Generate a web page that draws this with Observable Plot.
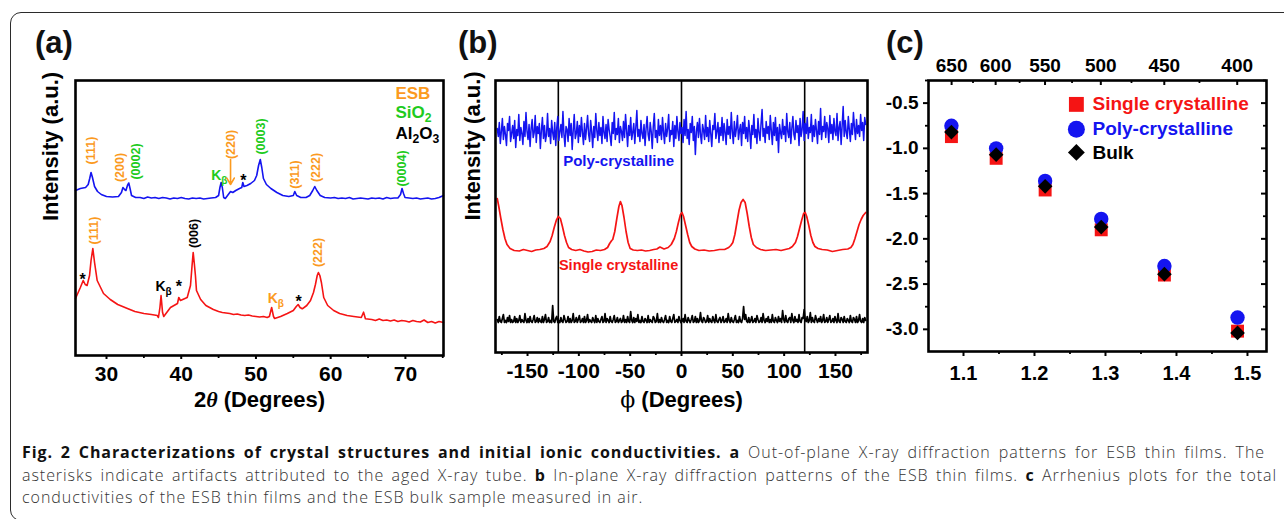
<!DOCTYPE html>
<html><head><meta charset="utf-8">
<script src="https://cdn.jsdelivr.net/npm/d3@7"></script>
<script src="https://cdn.jsdelivr.net/npm/@observablehq/plot@0.6"></script>
<style>
body{margin:0;background:#fff;}
#root{position:relative;width:1284px;height:519px;overflow:hidden;font-family:"Liberation Sans",Arial,sans-serif;background:#fff;}
.box{position:absolute;left:10px;top:12px;width:1300px;height:509px;border:1.5px solid #2b2b2b;border-radius:11px;box-sizing:border-box;}
.panel{position:absolute;top:0;}
.plabel{position:absolute;top:27px;font-size:31px;font-weight:bold;line-height:31px;color:#111;}
.caption{position:absolute;left:22px;top:441px;font-family:"Open Sans",sans-serif;font-size:16px;letter-spacing:0.95px;line-height:22.5px;color:#333;font-weight:300;}
.caption div{white-space:nowrap}
.caption .j{text-align:justify;text-align-last:justify}
.caption b{font-weight:700;color:#111;letter-spacing:0.9px}
</style></head><body>
<div id="root">
  <div class="box"></div>
  <div class="plabel" style="left:35px">(a)</div>
  <div class="plabel" style="left:458px">(b)</div>
  <div class="plabel" style="left:886px">(c)</div>
  <div class="panel" id="pa" style="left:0px;width:455px"></div>
  <div class="panel" id="pb" style="left:440px;width:440px"></div>
  <div class="panel" id="pc" style="left:870px;width:414px"></div>
  <div class="caption">
    <div class="j" style="width:1243px"><b>Fig. 2 Characterizations of crystal structures and initial ionic conductivities.</b> <b>a</b> Out-of-plane X-ray diffraction patterns for ESB thin films. The</div>
    <div class="j" style="width:1255px">asterisks indicate artifacts attributed to the aged X-ray tube. <b>b</b> In-plane X-ray diffraction patterns of the ESB thin films. <b>c</b> Arrhenius plots for the total</div>
    <div>conductivities of the ESB thin films and the ESB bulk sample measured in air.</div>
  </div>
</div>
<script>
const FONT = "Liberation Sans, Arial, Helvetica, sans-serif";
const BLUE = "#1414f0", RED = "#f51414", ORANGE = "#fb9a1e", GREEN = "#1ecb1e", BLACK = "#000";

// ---------- Panel (a): out-of-plane XRD (2θ, intensity a.u.) ----------
const xrdPoly = [[25.85,165],[26.5,167],[27.2,168],[27.55,171],[27.75,177],[27.93,183],[28.12,178],[28.4,169],[28.8,164],[29.3,161],[30.0,159],[30.8,158.5],[31.6,159],[32.0,163],[32.2,168],[32.42,166],[32.6,165],[32.8,170],[32.98,172.5],[33.15,167],[33.35,160],[33.9,158],[34.5,158],[35,157],[35.5,158.5],[36,157.5],[36.5,158],[37,157],[37.5,158],[38,157.5],[38.5,156.5],[39,157.5],[39.5,157],[40,158],[40.5,157],[41,156.5],[41.5,157.5],[42,157],[42.5,157.5],[43,156.5],[43.5,157],[44,157.5],[44.6,158],[45.0,160],[45.18,168],[45.34,173],[45.5,168],[45.68,158],[45.9,157],[46.2,160],[46.6,164],[46.9,163],[47.3,165],[47.8,167],[48.1,168],[48.24,173],[48.4,169],[48.8,170],[49.3,172],[49.8,175],[50.1,180],[50.35,190],[50.58,196],[50.78,188],[51.0,177],[51.4,171],[52,167],[52.8,163],[53.6,160],[54.4,159],[55.0,160],[55.2,164],[55.45,160],[56,158],[56.7,158],[57.2,160],[57.6,165],[57.87,169],[58.15,165],[58.6,160],[59.2,158],[60,157.5],[60.5,158],[61,157],[61.5,157.5],[62,157],[62.5,158],[63,156.5],[63.5,157],[64,157.5],[64.5,157],[65,156.5],[65.5,157.5],[66,157],[66.5,157.5],[67,156.5],[67.5,158],[68,157],[68.5,157.5],[69,157.5],[69.35,161],[69.55,167],[69.75,162],[69.95,158],[70.5,157.5],[71,157],[71.5,157.5],[72,156.5],[72.5,157],[73,157.5],[73.5,156.5],[74,157],[74.5,158],[75.1,160]];

const xrdSingle = [[25.85,57],[26.5,68],[26.88,75],[27.15,71],[27.4,70],[27.73,80],[27.93,95],[28.17,107],[28.4,93],[28.75,75],[29.6,62],[30.5,56],[31.5,51],[32.8,47],[33.8,44],[35.0,42],[36.0,41],[36.8,40],[36.95,38],[37.15,48],[37.3,60],[37.5,43],[37.66,39],[38.56,48],[39.5,52],[39.67,58],[39.9,55],[40.8,58],[41.24,70],[41.45,90],[41.6,103],[41.75,92],[41.9,80],[42.04,65],[42.6,56],[43.3,50],[44.3,46],[45.0,44],[45.5,43],[46,42.5],[46.5,42],[47,41],[47.5,41.5],[48,40.5],[48.5,40],[49,40.5],[49.5,39.5],[50,39],[50.5,38.5],[51,39],[51.5,38],[51.8,39],[52.1,48],[52.35,39],[52.5,37],[53.3,39],[54.2,42],[55.0,45],[55.4,49],[55.65,51],[55.9,48],[56.2,46.7],[56.8,50],[57.3,55],[57.7,63],[57.96,71],[58.2,80],[58.36,83],[58.55,80],[58.76,73],[59.07,58],[59.6,50],[60.4,45],[61.2,42],[62.2,40],[63.1,39],[64.1,38],[64.4,43.3],[64.65,36.7],[65.5,36],[66,35],[66.5,36.5],[67,35],[67.5,35.5],[68,34.5],[68.5,35.5],[69,34],[69.5,35],[70,34.5],[70.5,33.5],[71,35],[71.5,34],[72,33.5],[72.5,35.5],[73,33],[73.5,34],[74,32.5],[74.5,34],[75.1,33]];

// rotated Miller-index labels (2θ, intensity, text, colour)
const polyIndexLabels = [
  {x:27.86, y:205, label:"(111)", color:ORANGE},
  {x:31.87, y:188, label:"(200)", color:ORANGE},
  {x:34.0,  y:194, label:"(0002)", color:GREEN},
  {x:46.6,  y:211, label:"(220)", color:ORANGE},
  {x:50.74, y:219, label:"(0003)", color:GREEN},
  {x:55.28, y:181, label:"(311)", color:ORANGE},
  {x:58.1,  y:188, label:"(222)", color:ORANGE},
  {x:69.6,  y:187, label:"(0004)", color:GREEN}
];
const singleIndexLabels = [
  {x:28.26, y:125, label:"(111)", color:ORANGE},
  {x:41.77, y:122, label:"(006)", color:BLACK},
  {x:58.36, y:103, label:"(222)", color:ORANGE}
];
const kbetaLabels = [
  {x:45.1, y:180, label:"K_β", color:GREEN},
  {x:37.63, y:69,  label:"K_β", color:BLACK},
  {x:52.67, y:57,  label:"K_β", color:ORANGE}
];
const artifactStars = [
  {x:48.33, y:175}, {x:26.8, y:76}, {x:39.67, y:69}, {x:55.7, y:54}
];
const arrow220 = [{x:46.6, y1:196, y2:171}];
const phaseLegend = [
  {label:"ESB", y:262, color:ORANGE},
  {label:"SiO_2", y:243, color:GREEN},
  {label:"Al_2O_3", y:222, color:BLACK}
];
const aTicks = [30,40,50,60,70];
const aMinor = [35,45,55,65,75];

// ---------- Panel (b): in-plane φ scans (1° steps) ----------
const phiStart = -179.5, phiStep = 1;
const phiPolyI = [
224,216,230,209,221,234,213,226,218,207,229,222,236,211,219,227,214,232,205,223,
217,238,212,225,219,208,231,216,240,221,213,228,206,224,233,215,220,237,210,226,
219,229,204,222,235,214,227,211,218,239,216,224,209,232,220,213,230,207,225,236,
212,221,228,215,241,218,206,226,223,211,234,217,229,203,222,238,214,219,231,210,
227,216,235,220,208,229,213,224,237,218,211,232,221,205,226,215,239,222,212,230,
217,225,209,236,220,214,228,211,233,223,216,207,230,219,240,213,224,218,234,210,
226,221,212,231,215,238,222,206,227,217,235,213,220,229,209,225,242,216,223,211,
232,219,214,228,207,224,236,218,212,230,221,204,226,239,215,222,210,233,217,227,
213,235,220,209,229,216,224,238,211,222,218,231,206,227,214,236,221,212,230,219,
225,210,233,217,241,214,223,208,229,220,236,212,226,198,221,230,215,234,218,209,
228,222,213,237,216,225,211,232,219,206,227,223,239,214,221,230,210,225,217,235,
212,229,220,208,233,218,226,214,240,221,209,231,216,224,237,213,222,228,207,230,
219,236,214,225,211,232,221,204,227,218,238,215,223,209,234,220,212,229,243,216,
224,210,231,219,226,213,237,222,208,230,217,235,212,225,200,228,220,214,233,218,
226,211,239,221,215,230,209,224,236,218,213,232,220,227,207,234,216,223,241,212,
229,219,235,214,225,220,238,211,227,216,233,222,209,231,218,244,213,226,221,236,
215,230,224,210,237,219,228,213,234,221,217,239,212,225,231,208,227,246,216,232,
220,214,236,223,211,229,218,240,225,213,233,219,227,216,238,222,230,212,235,228];
const phiSubstrateI = [
33,30,36,31,30,34,38,30,32,30,35,31,37,30,33,30,31,36,30,34,
30,32,37,30,33,31,30,39,32,30,34,30,36,31,30,33,37,30,31,35,
30,34,31,30,36,30,33,38,30,31,35,30,32,30,47,31,30,34,36,30,
32,30,35,31,30,37,33,30,31,36,30,34,30,32,39,30,31,35,30,33,
37,30,31,34,30,36,30,32,38,30,33,31,30,35,32,30,37,30,34,31,
30,33,36,30,31,39,30,34,32,30,36,31,30,33,37,30,31,35,30,32,
34,30,31,37,30,33,30,36,31,30,41,32,30,35,30,34,31,38,30,32,
30,36,31,30,34,32,30,37,30,33,31,30,36,34,30,31,39,30,33,30,
35,31,30,33,37,30,32,30,36,31,30,34,38,30,31,33,30,36,32,30,
31,34,30,38,31,30,35,32,30,33,37,30,31,36,30,34,30,32,40,31,
30,35,33,30,31,37,30,34,31,30,36,32,30,38,31,30,33,35,30,32,
36,30,31,34,30,39,32,30,35,31,30,33,37,30,32,30,36,31,30,34,
46,33,38,31,30,35,30,32,36,30,31,34,30,37,33,30,31,35,30,39,
32,30,34,31,36,30,33,30,38,31,30,35,32,30,36,31,34,30,42,33,
30,37,31,30,34,35,30,39,32,30,36,31,33,30,38,31,30,35,34,43,
33,31,36,30,32,40,30,35,31,30,37,33,30,34,31,36,30,32,38,30,
31,35,30,33,37,30,31,34,30,36,32,30,39,31,30,35,33,30,36,31,
30,34,32,30,37,31,30,35,33,30,36,30,32,38,31,30,34,30,35,32];
const phiSingle = [[-179.5,154],[-178,146],[-176,134],[-174,123],[-172,114],[-170,108],[-167,104],[-163,102],[-158,101.5],[-154,103],[-150,102],[-146,101],[-142,102.5],[-138,103],[-134,104],[-131,106],[-128,111],[-126,117],[-124,125],[-122,132],[-120,136],[-118,134],[-116,126],[-114,117],[-112,110],[-110,105],[-107,103],[-103,102],[-99,103],[-95,101.5],[-91,100.5],[-87,101],[-83,102.5],[-79,102],[-75,103],[-72,105],[-70,109],[-68,112],[-67,113],[-65,121],[-63,134],[-61,146],[-59.5,151],[-58,147],[-56,135],[-54,121],[-52,110],[-50,104],[-47,102.5],[-43,102],[-39,102.5],[-35,101.5],[-31,102],[-27,103],[-24,103.5],[-21,105.5],[-17,103.5],[-13,105],[-10,108],[-7,114],[-5,121],[-3,130],[-1,138],[0.5,140],[2,136],[4,127],[6,118],[8,110],[10,106],[13,103.5],[17,102],[22,102.5],[27,101.5],[32,102],[37,103],[42,103],[46,105],[48,107],[50,110],[52,118],[54,130],[56,142],[58,150],[60,153],[62,150],[64,139],[66,126],[68,115],[70,108],[73,105],[77,103],[82,102],[87,102.5],[92,103],[97,102],[101,103],[105,104],[108,106],[111,110],[113,116],[115,124],[117,132],[119,139],[120.5,140],[122,136],[124,127],[126,117],[128,110],[130,106],[133,104],[137,103],[142,102.5],[147,101],[152,102],[157,103],[162,103.5],[165,105],[167,108],[169,114],[171,121],[173,128],[175,133],[177,137],[179.5,140]];
const substratePhi = [-120, 0, 120];
const bTicks = [-150,-100,-50,0,50,100,150];
const bMinor = [-175,-125,-75,-25,25,75,125,175];
const bLabels = [
  {x:-61.3, y:191, label:"Poly-crystalline", color:BLUE, size:15},
  {x:-61.3, y:87, label:"Single crystalline", color:RED, size:14.5}
];

// ---------- Panel (c): Arrhenius plot ----------
const invT = [1.083, 1.146, 1.215, 1.294, 1.383, 1.486];   // 1000/T (K^-1)
const logSigmaSingle = [-0.87, -1.11, -1.46, -1.90, -2.40, -3.02];
const logSigmaPoly   = [-0.75, -1.00, -1.36, -1.78, -2.30, -2.87];
const logSigmaBulk   = [-0.82, -1.07, -1.42, -1.87, -2.39, -3.04];
const tempTicksC = [650, 600, 550, 500, 450, 400];
const tempMinorC = [625, 575, 525, 475, 425];
const cXTicks = [1.1, 1.2, 1.3, 1.4, 1.5];
const cXMinor = [1.15, 1.25, 1.35, 1.45];
const cYTicks = [-0.5, -1.0, -1.5, -2.0, -2.5, -3.0];
const cYMinor = [-0.25, -0.75, -1.25, -1.75, -2.25, -2.75];
const cLegend = [
  {label:"Single crystalline", y:-0.514, color:RED, symbol:"square", r:8.4},
  {label:"Poly-crystalline", y:-0.79, color:BLUE, symbol:"circle", r:8.5},
  {label:"Bulk", y:-1.045, color:BLACK, symbol:"diamond2", r:7.6}
];
const cLegendSymX = 1.259, cLegendTextX = 1.2817;
const toInvT = T => 1000 / (T + 273.15);

// ---------- helpers ----------
function enrich(svg){
  svg.querySelectorAll("text").forEach(t => {
    const s = t.textContent;
    if (!/[_θϕ]/.test(s)) return;
    const fs = parseFloat(getComputedStyle(t).fontSize) || 14;
    const tokens = [];
    for (let i = 0; i < s.length; i++) {
      const c = s[i];
      if (c === "_") { tokens.push({t:s[i+1], sub:true}); i++; }
      else if (c === "θ" || c === "ϕ") tokens.push({t:c, greek:c});
      else if (tokens.length && tokens[tokens.length-1].plain) tokens[tokens.length-1].t += c;
      else tokens.push({t:c, plain:true});
    }
    while (t.firstChild) t.removeChild(t.firstChild);
    let shifted = false;
    const sh = (0.26*fs).toFixed(2);
    tokens.forEach(tok => {
      const ts = document.createElementNS("http://www.w3.org/2000/svg","tspan");
      ts.textContent = tok.t;
      if (tok.sub) {
        ts.setAttribute("font-size", (0.72*fs).toFixed(1));
        if (!shifted) { ts.setAttribute("dy", sh); shifted = true; }
      } else {
        if (shifted) { ts.setAttribute("dy", "-" + sh); shifted = false; }
        if (tok.greek === "θ") { ts.setAttribute("font-family","Liberation Serif, Times New Roman, serif"); ts.setAttribute("font-style","italic"); }
        if (tok.greek === "ϕ") { ts.setAttribute("font-family","DejaVu Serif, serif"); ts.setAttribute("font-weight","normal"); }
      }
      t.appendChild(ts);
    });
  });
}
const baseStyle = {background:"transparent", overflow:"visible", fontFamily:FONT, color:"#000", fontWeight:"bold"};

// ---------- Panel (a) ----------
const plotA = Plot.plot({
  width:455, height:415, marginLeft:75, marginRight:12, marginTop:80, marginBottom:60,
  style: baseStyle,
  x:{domain:[25.85, 75.1]},
  y:{domain:[0, 275], axis:null},
  marks:[
    Plot.line(xrdPoly, {x:d=>d[0], y:d=>d[1], stroke:BLUE, strokeWidth:1.6}),
    Plot.line(xrdSingle, {x:d=>d[0], y:d=>d[1], stroke:RED, strokeWidth:1.6}),
    Plot.text(polyIndexLabels, {x:"x", y:"y", text:"label", fill:"color", rotate:-90, fontSize:12.5, fontWeight:"bold"}),
    Plot.text(singleIndexLabels, {x:"x", y:"y", text:"label", fill:"color", rotate:-90, fontSize:12.5, fontWeight:"bold"}),
    Plot.text(kbetaLabels, {x:"x", y:"y", text:"label", fill:"color", fontSize:14, fontWeight:"bold"}),
    Plot.text(artifactStars, {x:"x", y:"y", text:()=>"*", fill:BLACK, fontSize:16, fontWeight:"bold"}),
    Plot.arrow(arrow220, {x1:"x", x2:"x", y1:"y1", y2:"y2", stroke:ORANGE, strokeWidth:1.6, headLength:7}),
    Plot.text(phaseLegend, {x:68.66, y:"y", text:"label", fill:"color", textAnchor:"start", fontSize:17, fontWeight:"bold"}),
    Plot.frame({stroke:"#000", strokeWidth:2.6}),
    Plot.axisX(aTicks, {anchor:"bottom", tickSize:4, tickPadding:7, strokeWidth:2, fontSize:21, fontWeight:"bold", tickFormat:d=>String(d), label:null}),
    Plot.axisX(aMinor, {anchor:"bottom", tickSize:3, strokeWidth:1.8, tickFormat:()=>"", label:null}),
    Plot.text(["2θ (Degrees)"], {frameAnchor:"bottom", dy:51, fontSize:22, fontWeight:"bold"}),
    Plot.text(["Intensity (a.u.)"], {frameAnchor:"left", dx:-25, dy:3, rotate:-90, fontSize:22, fontWeight:"bold"})
  ]
});
document.getElementById("pa").appendChild(plotA);
enrich(plotA);

// ---------- Panel (b) ----------
const polyScan = phiPolyI.map((v,i)=>({phi:phiStart+phiStep*i, I:v}));
const substrateScan = phiSubstrateI.map((v,i)=>({phi:phiStart+phiStep*i, I:v}));
const plotB = Plot.plot({
  width:440, height:415, marginLeft:55, marginRight:13, marginTop:80, marginBottom:63,
  style: baseStyle,
  x:{domain:[-181.2, 181.2]},
  y:{domain:[0, 272], axis:null},
  marks:[
    Plot.ruleX(substratePhi, {stroke:"#000", strokeWidth:1.6}),
    Plot.line(substrateScan, {x:"phi", y:"I", stroke:"#000", strokeWidth:1.7}),
    Plot.line(polyScan, {x:"phi", y:"I", stroke:BLUE, strokeWidth:1.5}),
    Plot.line(phiSingle, {x:d=>d[0], y:d=>d[1], stroke:RED, strokeWidth:1.7}),
    Plot.text(bLabels, {x:"x", y:"y", text:"label", fill:"color", fontSize:d=>d.size, fontWeight:"bold"}),
    Plot.frame({stroke:"#000", strokeWidth:2.6}),
    Plot.axisX(bTicks, {anchor:"bottom", tickSize:4, tickPadding:7, strokeWidth:2, fontSize:21, fontWeight:"bold", tickFormat:d=>String(d), label:null}),
    Plot.axisX(bMinor, {anchor:"bottom", tickSize:3, strokeWidth:1.8, tickFormat:()=>"", label:null}),
    Plot.text(["ϕ (Degrees)"], {frameAnchor:"bottom", dy:54, fontSize:22, fontWeight:"bold"}),
    Plot.text(["Intensity (a.u.)"], {frameAnchor:"left", dx:-23, dy:4, rotate:-90, fontSize:22, fontWeight:"bold"})
  ]
});
document.getElementById("pb").appendChild(plotB);
enrich(plotB);

// ---------- Panel (c) ----------
const single = invT.map((x,i)=>({x, y:logSigmaSingle[i]}));
const poly = invT.map((x,i)=>({x, y:logSigmaPoly[i]}));
const bulk = invT.map((x,i)=>({x, y:logSigmaBulk[i]}));
const C_FW = 338, C_FH = 271;
const plotC = Plot.plot({
  width:414, height:415, marginLeft:58, marginRight:18, marginTop:80, marginBottom:64,
  style: baseStyle,
  x:{domain:[1.0507, 1.5268]},
  y:{domain:[-3.245, -0.25]},
  r:{type:"identity"},
  symbol:{type:"identity"},
  marks:[
    Plot.dot(single, {x:"x", y:"y", symbol:"square", r:7.3, fill:RED, stroke:"none"}),
    Plot.dot(poly, {x:"x", y:"y", symbol:"circle", r:7.2, fill:BLUE, stroke:"none"}),
    Plot.dot(bulk, {x:"x", y:"y", symbol:"diamond2", r:6.6, fill:BLACK, stroke:"none"}),
    Plot.dot(cLegend, {x:cLegendSymX, y:"y", symbol:"symbol", r:"r", fill:"color", stroke:"none"}),
    Plot.text(cLegend, {x:cLegendTextX, y:"y", text:"label", fill:"color", textAnchor:"start", fontSize:19, fontWeight:"bold"}),
    Plot.ruleX(tempTicksC.map(toInvT), {insetBottom:C_FH-5, stroke:"#000", strokeWidth:2}),
    Plot.ruleX(tempMinorC.map(toInvT), {insetBottom:C_FH-3, stroke:"#000", strokeWidth:1.8}),
    Plot.ruleY(cYTicks, {insetLeft:C_FW-5, stroke:"#000", strokeWidth:2}),
    Plot.ruleY(cYMinor, {insetLeft:C_FW-3, stroke:"#000", strokeWidth:1.8}),
    Plot.frame({stroke:"#000", strokeWidth:2.6}),
    Plot.axisX(cXTicks, {anchor:"bottom", tickSize:5, tickPadding:9, strokeWidth:2, fontSize:20, fontWeight:"bold", tickFormat:d=>d.toFixed(1), label:null}),
    Plot.axisX(cXMinor, {anchor:"bottom", tickSize:3, strokeWidth:1.8, tickFormat:()=>"", label:null}),
    Plot.axisX(tempTicksC.map(toInvT), {anchor:"top", tickSize:0, tickPadding:9, fontSize:19, fontWeight:"bold", tickFormat:d=>String(Math.round(1000/d - 273.15)), label:null}),
    Plot.axisY(cYTicks, {anchor:"left", tickSize:5, tickPadding:5, strokeWidth:2, fontSize:19, fontWeight:"bold", tickFormat:d=>d.toFixed(1), label:null}),
    Plot.axisY(cYMinor, {anchor:"left", tickSize:3, strokeWidth:1.8, tickFormat:()=>"", label:null})
  ]
});
document.getElementById("pc").appendChild(plotC);
enrich(plotC);
</script>
</body></html>
